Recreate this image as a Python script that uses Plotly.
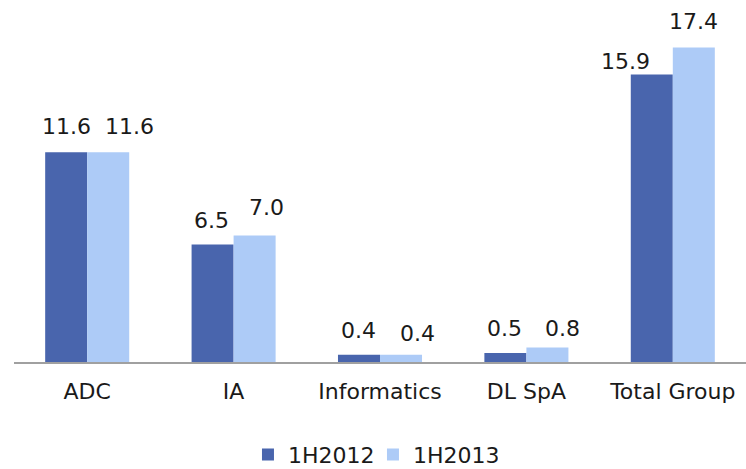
import plotly.graph_objects as go

categories = ["ADC", "IA", "Informatics", "DL SpA", "Total Group"]
series_names = ["1H2012", "1H2013"]
values_2012 = [11.6, 6.5, 0.4, 0.5, 15.9]
values_2013 = [11.6, 7.0, 0.4, 0.8, 17.4]
colors = ["#4965AD", "#ADCBF7"]

# label placement tweaks (pixels), styling only
label_dx = [[0, -1, 0, -1, -26], [21, 12, 16, 15, 0]]
label_gap = [[17, 16, 16, 16, 5], [17, 19, 13, 11, 17]]

W, H = 746, 469
L, R, T, B = 14, 0, 20, 107
bargap = 0.426
FONT = "DejaVu Sans"

fig = go.Figure()
for name, vals, col in zip(series_names, [values_2012, values_2013], colors):
    fig.add_trace(go.Bar(
        x=categories, y=vals, name=name,
        marker=dict(color=col, line=dict(width=0)),
    ))

cat_w = (W - L - R) / len(categories)
bar_w = cat_w * (1 - bargap) / 2
annotations = []
for si, vals in enumerate([values_2012, values_2013]):
    side = -1 if si == 0 else 1
    for ci, (c, v) in enumerate(zip(categories, vals)):
        annotations.append(dict(
            x=c, y=v, xref="x", yref="y", text=f"{v:.1f}", showarrow=False,
            xanchor="center", yanchor="bottom",
            xshift=side * bar_w / 2 + label_dx[si][ci],
            yshift=label_gap[si][ci] - 6,
            font=dict(size=22, color="#1a1a1a", family=FONT),
        ))

fig.update_layout(
    width=W, height=H,
    margin=dict(l=L, r=R, t=T, b=B, autoexpand=False),
    paper_bgcolor="white", plot_bgcolor="white",
    barmode="group", bargap=bargap, bargroupgap=0,
    font=dict(family=FONT, size=22, color="#1a1a1a"),
    xaxis=dict(showline=True, linecolor="#a0a0a0", linewidth=2, ticks="",
               tickfont=dict(size=22), showgrid=False, automargin=False,
               ticklabelstandoff=9),
    yaxis=dict(visible=False, range=[0, 18.92], showgrid=False, automargin=False),
    legend=dict(orientation="h", x=0.4904, xanchor="center", y=-0.271, yanchor="middle",
                font=dict(size=22), traceorder="normal", itemwidth=30,
                entrywidth=80, borderwidth=0),
    annotations=annotations,
    showlegend=True,
)

fig.write_html("out.html", config={"displayModeBar": False},
               post_script="document.body.style.margin='0';document.body.style.padding='0';")
